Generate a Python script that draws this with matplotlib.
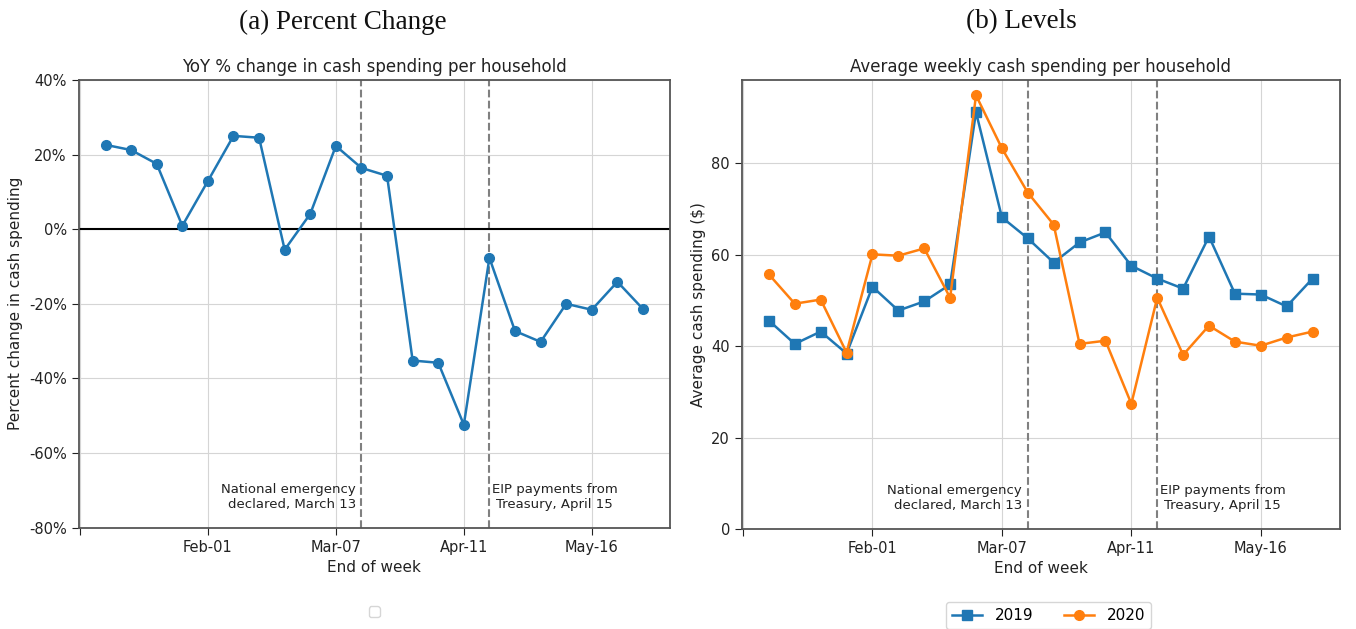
import numpy as np
import pandas as pd
import matplotlib
matplotlib.use("Agg")
import matplotlib.pyplot as plt
from matplotlib.ticker import FuncFormatter

# weekly data, week ending dates
weeks = pd.date_range("2020-01-04", "2020-05-30", freq="7D")

yoy_pct = [22.6, 21.2, 17.5, 0.9, 12.9, 25.0, 24.5, -5.5, 4.1, 22.3, 16.4,
           14.3, -35.2, -35.8, -52.4, -7.7, -27.3, -30.2, -20.0, -21.6, -14.1, -21.4]
spend_2019 = [45.6, 40.5, 43.2, 38.4, 53.0, 47.8, 49.8, 53.5, 91.2, 68.2, 63.6,
              58.3, 62.7, 64.9, 57.6, 54.8, 52.6, 64.0, 51.5, 51.3, 48.7, 54.8]
spend_2020 = [55.7, 49.3, 50.2, 38.6, 60.1, 59.8, 61.4, 50.6, 94.9, 83.3, 73.6,
              66.6, 40.5, 41.2, 27.4, 50.6, 38.1, 44.5, 41.0, 40.1, 41.9, 43.2]

events = [pd.Timestamp("2020-03-14"), pd.Timestamp("2020-04-18")]
tick_dates = pd.to_datetime(["2019-12-28", "2020-02-01", "2020-03-07", "2020-04-11", "2020-05-16"])
tick_labels = ["", "Feb-01", "Mar-07", "Apr-11", "May-16"]

fig = plt.figure(figsize=(13.56, 6.29), dpi=100)
ax1 = fig.add_axes([0.058, 0.161, 0.436, 0.712])
ax2 = fig.add_axes([0.547, 0.159, 0.441, 0.714])

blue = "#1f77b4"
orange = "#ff7f0e"


def style(ax):
    ax.grid(True, color="#d5d5d5", linewidth=0.8)
    ax.set_axisbelow(True)
    for s in ax.spines.values():
        s.set_color("#555555")
        s.set_linewidth(1.3)
    ax.tick_params(axis="both", labelsize=10.5, colors="#222222", length=5,
                   direction="out", top=False, right=False)
    ax.set_xticks(tick_dates)
    ax.set_xticklabels(tick_labels)
    ax.set_xlabel("End of week", fontsize=11, color="#222222")
    for d in events:
        ax.axvline(d, color="gray", linestyle="--", linewidth=1.5, zorder=1)


# (a) percent change
ax1.plot(weeks, yoy_pct, color=blue, marker="o", markersize=7, linewidth=1.8, zorder=3)
ax1.axhline(0, color="black", linewidth=1.5, zorder=2)
ax1.set_ylim(-80, 40)
ax1.set_yticks(np.arange(-80, 41, 20))
ax1.yaxis.set_major_formatter(FuncFormatter(lambda v, p: "%d%%" % v))
ax1.set_ylabel("Percent change in cash spending", fontsize=11, color="#222222")
ax1.set_title("YoY % change in cash spending per household", fontsize=12, color="#222222")
style(ax1)
ax1.set_xlim(weeks[0] - pd.Timedelta(days=7.35), weeks[-1] + pd.Timedelta(days=7.35))

# (b) levels
ax2.plot(weeks, spend_2019, color=blue, marker="s", markersize=7, linewidth=1.8, label="2019", zorder=3)
ax2.plot(weeks, spend_2020, color=orange, marker="o", markersize=7, linewidth=1.8, label="2020", zorder=3)
ax2.set_ylim(0, None)
ax2.set_yticks([0, 20, 40, 60, 80])
ax2.set_ylabel("Average cash spending ($)", fontsize=11, color="#222222")
ax2.set_title("Average weekly cash spending per household", fontsize=12, color="#222222")
style(ax2)
ax2.set_xlim(weeks[0] - pd.Timedelta(days=7.35), weeks[-1] + pd.Timedelta(days=7.35))

for ax in (ax1, ax2):
    ax.text(events[0] - pd.Timedelta(days=1.5), 0.038, "National emergency\ndeclared, March 13",
            transform=ax.get_xaxis_transform(), ha="right", va="bottom", fontsize=9.5,
            color="#222222", linespacing=1.2)
    ax.text(events[1] + pd.Timedelta(days=0.7), 0.038, "EIP payments from\nTreasury, April 15",
            transform=ax.get_xaxis_transform(), ha="left", va="bottom", fontsize=9.5,
            color="#222222", linespacing=1.2, multialignment="center")

# empty legend under panel (a)
ax1.legend(handles=[], loc="upper center", bbox_to_anchor=(0.5, -0.16), frameon=True)
ax2.legend(loc="upper center", bbox_to_anchor=(0.513, -0.145), ncol=2, fontsize=11,
           frameon=True, handlelength=2.0, columnspacing=2.0)

fig.text(0.253, 0.965, "(a) Percent Change", ha="center", va="center",
         fontsize=19.5, family="Liberation Serif", color="#111111")
fig.text(0.753, 0.965, "(b) Levels", ha="center", va="center",
         fontsize=19.5, family="Liberation Serif", color="#111111")

fig.savefig("out.png", dpi=100)
